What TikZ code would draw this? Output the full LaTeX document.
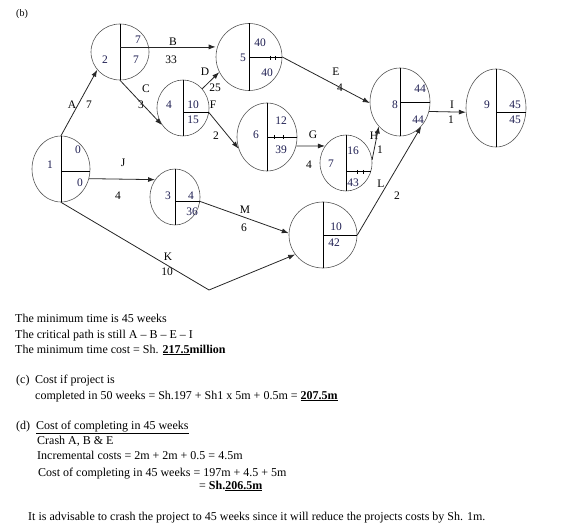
\documentclass[tikz,border=0pt]{standalone}
\usepackage{fontspec}
\setmainfont{Liberation Serif}
\usetikzlibrary{arrows.meta,shapes.geometric,calc}
\definecolor{pline}{HTML}{555555}
\definecolor{pnum}{HTML}{1C1C50}

\begin{document}
\begin{tikzpicture}[x=1pt,y=-1pt,
    every node/.style={font=\fontsize{11.5}{13}\selectfont,inner sep=0pt},
    evt/.style={ellipse,draw=pline,line width=0.6pt,inner sep=0pt},
    arr/.style={draw=black!85,line width=0.8pt,-{Latex[length=7pt,width=5pt]}},
    txt/.style={anchor=base west,font=\fontsize{12}{14}\selectfont}]
  \useasboundingbox (0,0) rectangle (564,529);
  \node[anchor=base west,font=\fontsize{10}{12}\selectfont] (b) at (16,17) {(b)};
  \foreach \n/\p/\w/\h/\a in {n1/{(61,169)}/58/66/-5, n2/{(120,52)}/58/56/10,
      n5/{(249,57)}/66/67/0, n8/{(400,102)}/60/68/0, n9/{(496,108)}/60/78/-7,
      n4/{(183,108)}/52/56/-10, n6/{(267,137)}/60/68/0, n7/{(346,163)}/52/56/-19,
      n10/{(323,235)}/68/66/0, n3/{(175,197)}/50/56/-10}{
    \node[evt,minimum width=\w,minimum height=\h] (\n) at \p {};
    \draw (\n.north) -- (\n.south) (\n.north |- \n.\a) -- (\n.\a);
  }
  \draw (270,56) -- (270,60) (275,56) -- (275,60)
        (274,135) -- (274,139) (283,135) -- (283,139)
        (357,170) -- (357,174) (363,170) -- (363,174);
  \foreach \p/\t [count=\i] in {{(50,165)}/1, {(78,150)}/0, {(80,183)}/0,
      {(105,60)}/2, {(138,40)}/7, {(136,60)}/7,
      {(243,58)}/5, {(260,43)}/40, {(267,73)}/40,
      {(395,105)}/8, {(420,89)}/44, {(418,120)}/44,
      {(487,105)}/9, {(515,105)}/45, {(515,120)}/45,
      {(169,105)}/4, {(193,105)}/10, {(193,120)}/15,
      {(256,135)}/6, {(281,121)}/12, {(281,150)}/39,
      {(331,164)}/7, {(353,151)}/16, {(353,183)}/43,
      {(336,227)}/10, {(334,243)}/42,
      {(168,196)}/3, {(191,196)}/4, {(192,212)}/36}
    \node[text=pnum] (v\i) at \p {\t};
  \foreach \p/\t [count=\i] in {{(72,105)}/A, {(89,105)}/7, {(173,42)}/B, {(171,60)}/33,
      {(146,89)}/C, {(141,105)}/3, {(205,72)}/D, {(215,88)}/25,
      {(336,72)}/E, {(340,88)}/4, {(213,105)}/F, {(216,136)}/2,
      {(313,135)}/G, {(309,165)}/4, {(374,136)}/H, {(380,150)}/1,
      {(452,105)}/I, {(451,120)}/1, {(123,163)}/J, {(118,196)}/4,
      {(168,257)}/K, {(167,272)}/10, {(381,184)}/L, {(397,196)}/2,
      {(245,210)}/M, {(244,228)}/6}
    \node (a\i) at \p {\t};
  \coordinate (kbend) at (209,290);
  \draw[arr] (n1.north) -- (n2.218);
  \draw[arr] (n2.north |- n2.10) -- (n2.10 -| n5.west);
  \draw[arr] (n2.south) -- (n4.219);
  \draw[arr] (n4.45) -- (n5.207);
  \draw[arr] (n5.east) -- (n8.182);
  \draw[arr] (n4.-10) -- (n6.202);
  \draw[arr] (n6.-17) -- (n7.141);
  \draw[arr] (n7.7) -- (n8.229);
  \draw[arr] (n8.-18) -- (n9.188);
  \draw[arr] (n1.-19) -- (n3.139);
  \draw[arr] (n1.south) -- (kbend) -- (n10.215);
  \draw[arr] (n10.east) -- (n8.-49);
  \draw[arr] (n3.-10) -- (n10.177);
  \node[txt] (t1) at (15,322) {The minimum time is 45 weeks};
  \node[txt] (t2) at (15,338) {The critical path is still A – B – E – I};
  \node[txt] (t3) at (15,353) {The minimum time cost = Sh. \underline{\textbf{217.5}}\textbf{million}};
  \node[txt] (t4) at (16,383) {(c)};
  \node[txt] (t5) at (35,383) {Cost if project is};
  \node[txt] (t6) at (35,399) {completed in 50 weeks = Sh.197 + Sh1 x 5m + 0.5m = \underline{\textbf{207.5m}}};
  \node[txt] (t7) at (16,429) {(d)};
  \node[txt] (t8) at (36,429) {\underline{Cost of completing in 45 weeks}};
  \node[txt] (t9) at (37,444) {Crash A, B \& E};
  \node[txt] (t10) at (37,459) {Incremental costs = 2m + 2m + 0.5 = 4.5m};
  \node[txt] (t11) at (38,476) {Cost of completing in 45 weeks = 197m + 4.5 + 5m};
  \node[txt] (t12) at (199,489) {= \textbf{Sh.\underline{206.5m}}};
  \node[txt] (t13) at (28,520) {It is advisable to crash the project to 45 weeks since it will reduce the projects costs by Sh. 1m.};
\end{tikzpicture}
\end{document}
